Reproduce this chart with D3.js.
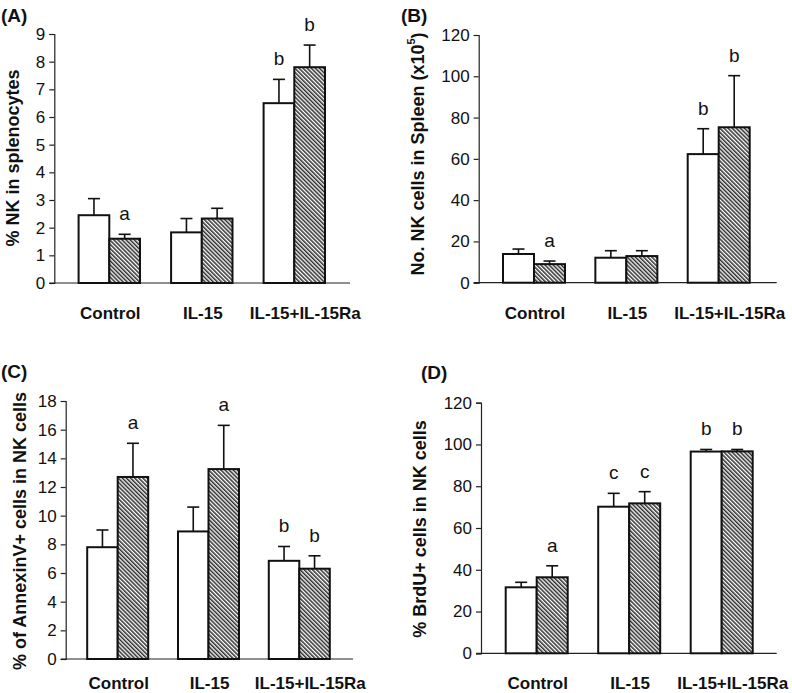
<!DOCTYPE html>
<html><head><meta charset="utf-8">
<script src="https://cdn.jsdelivr.net/npm/d3@7"></script>
<style>body{margin:0;background:#fff}svg{display:block}text{font-family:"Liberation Sans",Arial,sans-serif;fill:#111}</style>
</head><body>
<svg id="c" width="792" height="693"></svg>
<script>
const categories = ["Control", "IL-15", "IL-15+IL-15Ra"];

// Panel A: % NK in splenocytes
const aOpen = [2.45, 1.83, 6.5];
const aOpenSE = [0.6, 0.5, 0.86];
const aHatch = [1.6, 2.33, 7.8];
const aHatchSE = [0.16, 0.37, 0.8];
const aOpenLetters = ["", "", "b"];
const aHatchLetters = ["a", "", "b"];
const aTicks = [0, 1, 2, 3, 4, 5, 6, 7, 8, 9];

// Panel B: No. NK cells in spleen (x10^5)
const bOpen = [13.9, 12.1, 62.3];
const bOpenSE = [2.4, 3.4, 12.3];
const bHatch = [9.0, 12.9, 75.3];
const bHatchSE = [1.5, 2.6, 25.0];
const bOpenLetters = ["", "", "b"];
const bHatchLetters = ["a", "", "b"];
const bTicks = [0, 20, 40, 60, 80, 100, 120];

// Panel C: % AnnexinV+ cells in NK cells
const cOpen = [7.8, 8.9, 6.85];
const cOpenSE = [1.2, 1.7, 1.0];
const cHatch = [12.7, 13.25, 6.3];
const cHatchSE = [2.35, 3.05, 0.9];
const cOpenLetters = ["", "", "b"];
const cHatchLetters = ["a", "a", "b"];
const cTicks = [0, 2, 4, 6, 8, 10, 12, 14, 16, 18];

// Panel D: % BrdU+ cells in NK cells
const dOpen = [31.6, 70.2, 96.6];
const dOpenSE = [2.4, 6.4, 1.0];
const dHatch = [36.4, 71.8, 96.7];
const dHatchSE = [5.5, 5.6, 0.9];
const dOpenLetters = ["", "c", "b"];
const dHatchLetters = ["a", "c", "b"];
const dTicks = [0, 20, 40, 60, 80, 100, 120];

const svg = d3.select("#c");
const defs = svg.append("defs");
const pat = defs.append("pattern").attr("id", "hatch").attr("patternUnits", "userSpaceOnUse")
  .attr("width", 2.9).attr("height", 10).attr("patternTransform", "rotate(-45)");
pat.append("rect").attr("width", 2.9).attr("height", 10).attr("fill", "#fff");
pat.append("line").attr("x1", 0.8).attr("x2", 0.8).attr("y1", 0).attr("y2", 10)
  .attr("stroke", "#111").attr("stroke-width", 1.35);

function panel(cfg) {
  const g = svg.append("g");
  const y = d3.scaleLinear().domain([0, d3.max(cfg.ticks)]).range([cfg.bottom, cfg.top]);
  const step = (cfg.lastC - cfg.firstC) / (categories.length - 1);
  const x = d3.scaleBand().domain(categories)
    .range([cfg.firstC - step / 2, cfg.lastC + step / 2]).padding(0);
  const sub = d3.scaleBand().domain(["open", "hatch"]).range([-cfg.barW, cfg.barW]).padding(0);

  // y axis
  const ax = g.append("g").attr("transform", `translate(${cfg.left},0)`)
    .call(d3.axisLeft(y).tickValues(cfg.ticks).tickSize(5).tickPadding(4).tickFormat(d3.format("d")));
  ax.select(".domain").attr("stroke", "#222").attr("stroke-width", 1.2);
  ax.selectAll(".tick line").attr("stroke", "#222").attr("stroke-width", 1.2);
  ax.selectAll(".tick text").attr("font-size", 17).attr("fill", "#111")
    .attr("font-family", '"Liberation Sans",Arial,sans-serif');
  // x axis line
  g.append("line").attr("x1", cfg.left - 5).attr("x2", cfg.right)
    .attr("y1", y(0)).attr("y2", y(0)).attr("stroke", "#222").attr("stroke-width", 1.2);

  const series = [
    {key: "open", vals: cfg.open, se: cfg.openSE, letters: cfg.openL, fill: "#fff"},
    {key: "hatch", vals: cfg.hatch, se: cfg.hatchSE, letters: cfg.hatchL, fill: "url(#hatch)"}
  ];
  series.forEach(s => {
    const cx = (i) => x(categories[i]) + x.bandwidth() / 2 + sub(s.key);
    const gs = g.append("g");
    // error bars (upper only)
    gs.selectAll(".eb").data(s.vals).join("line")
      .attr("x1", (d, i) => cx(i) + sub.bandwidth() / 2).attr("x2", (d, i) => cx(i) + sub.bandwidth() / 2)
      .attr("y1", d => y(d)).attr("y2", (d, i) => y(d + s.se[i]))
      .attr("stroke", "#111").attr("stroke-width", 1.6);
    gs.selectAll(".cap").data(s.vals).join("line")
      .attr("x1", (d, i) => cx(i) + sub.bandwidth() / 2 - 6).attr("x2", (d, i) => cx(i) + sub.bandwidth() / 2 + 6)
      .attr("y1", (d, i) => y(d + s.se[i])).attr("y2", (d, i) => y(d + s.se[i]))
      .attr("stroke", "#111").attr("stroke-width", 1.6);
    gs.selectAll("rect").data(s.vals).join("rect")
      .attr("x", (d, i) => cx(i)).attr("width", sub.bandwidth())
      .attr("y", d => y(d)).attr("height", d => y(0) - y(d))
      .attr("fill", s.fill).attr("stroke", "#111").attr("stroke-width", 2);
    gs.selectAll(".lt").data(s.letters).join("text")
      .attr("x", (d, i) => cx(i) + sub.bandwidth() / 2)
      .attr("y", (d, i) => y(s.vals[i] + s.se[i]) - 14)
      .attr("text-anchor", "middle").attr("font-size", 19).text(d => d);
  });

  // category labels
  g.selectAll(".cat").data(categories).join("text")
    .attr("x", (d, i) => x(d) + x.bandwidth() / 2 + (i === categories.length - 1 ? 11 : 1))
    .attr("y", cfg.labelY).attr("text-anchor", "middle")
    .attr("font-size", 17).attr("font-weight", "bold").text(d => d);

  // y title
  const t = g.append("text").attr("transform", `translate(${cfg.titleX},${cfg.titleY}) rotate(-90)`)
    .attr("text-anchor", "middle").attr("dominant-baseline", "central")
    .attr("font-size", 18).attr("font-weight", "bold");
  cfg.title(t);

  g.append("text").attr("x", cfg.tagX).attr("y", cfg.tagY).attr("font-size", 19)
    .attr("font-weight", "bold").text(cfg.tag);
}

panel({tag: "(A)", tagX: 1, tagY: 22, left: 54.3, right: 350, top: 34, bottom: 283,
  ticks: aTicks, firstC: 109.3, lastC: 294.3, barW: 30.7, labelY: 319,
  open: aOpen, openSE: aOpenSE, hatch: aHatch, hatchSE: aHatchSE, openL: aOpenLetters, hatchL: aHatchLetters,
  titleX: 13, titleY: 158, title: t => t.text("% NK in splenocytes")});

panel({tag: "(B)", tagX: 401, tagY: 22, left: 478.7, right: 776.7, top: 35, bottom: 282.7,
  ticks: bTicks, firstC: 534, lastC: 718.7, barW: 31, labelY: 319,
  open: bOpen, openSE: bOpenSE, hatch: bHatch, hatchSE: bHatchSE, openL: bOpenLetters, hatchL: bHatchLetters,
  titleX: 418, titleY: 154, title: t => {
    t.append("tspan").text("No. NK cells in Spleen (x10");
    t.append("tspan").attr("font-size", 11).attr("dy", -7).text("5");
    t.append("tspan").attr("dy", 7).text(")");
  }});

panel({tag: "(C)", tagX: 1, tagY: 378, left: 65.7, right: 353, top: 401, bottom: 659,
  ticks: cTicks, firstC: 117.7, lastC: 299.3, barW: 30.5, labelY: 689,
  open: cOpen, openSE: cOpenSE, hatch: cHatch, hatchSE: cHatchSE, openL: cOpenLetters, hatchL: cHatchLetters,
  titleX: 20, titleY: 531, title: t => t.text("% of AnnexinV+ cells in NK cells")});

panel({tag: "(D)", tagX: 421, tagY: 379, left: 481, right: 776.7, top: 402.7, bottom: 653.3,
  ticks: dTicks, firstC: 536.7, lastC: 721.7, barW: 31, labelY: 689,
  open: dOpen, openSE: dOpenSE, hatch: dHatch, hatchSE: dHatchSE, openL: dOpenLetters, hatchL: dHatchLetters,
  titleX: 420, titleY: 529, title: t => t.text("% BrdU+ cells in NK cells")});
</script>
</body></html>
